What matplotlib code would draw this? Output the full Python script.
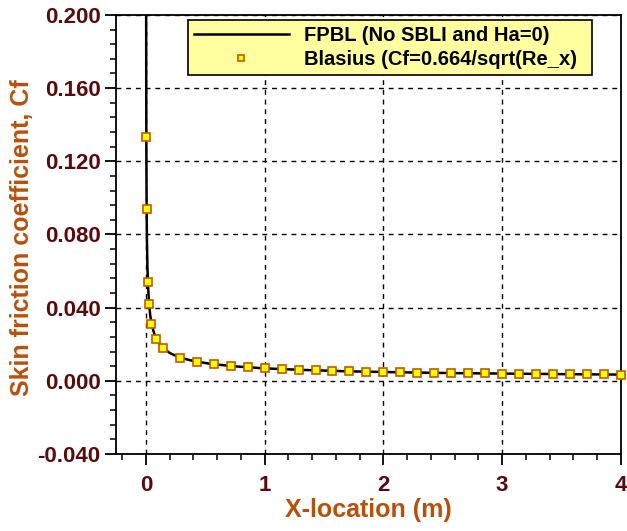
import matplotlib.pyplot as plt
from matplotlib.ticker import MultipleLocator

# FPBL solution (no SBLI, Ha=0)
x_fpbl = [0.0, 0.0016, 0.003, 0.005, 0.008, 0.012, 0.018, 0.025, 0.035, 0.05,
          0.07, 0.1, 0.14, 0.2, 0.28, 0.4, 0.55, 0.75, 1.0, 1.3, 1.7, 2.1,
          2.6, 3.1, 3.6, 4.0]
cf_fpbl = [0.30, 0.168, 0.124, 0.096, 0.076, 0.062, 0.051, 0.043, 0.036, 0.030,
           0.0257, 0.0215, 0.0182, 0.0152, 0.0128, 0.0108, 0.0092, 0.0079, 0.0068,
           0.0060, 0.0052, 0.0047, 0.0042, 0.0039, 0.0036, 0.0034]

# Blasius reference points
x_blasius = [0.003, 0.005, 0.013, 0.022, 0.04, 0.085, 0.143, 0.286, 0.429, 0.571,
             0.714, 0.857, 1.0, 1.143, 1.286, 1.429, 1.571, 1.714, 1.857, 2.0,
             2.143, 2.286, 2.429, 2.571, 2.714, 2.857, 3.0, 3.143, 3.286, 3.429,
             3.571, 3.714, 3.857, 4.0]
cf_blasius = [0.133, 0.094, 0.054, 0.042, 0.031, 0.023, 0.0180, 0.0127, 0.0104, 0.0090,
              0.0080, 0.0073, 0.0068, 0.0064, 0.0060, 0.0057, 0.0054, 0.0052, 0.0050, 0.0048,
              0.0046, 0.0045, 0.0044, 0.0042, 0.0041, 0.0040, 0.0039, 0.0038, 0.0038, 0.0037,
              0.0036, 0.0035, 0.0035, 0.0034]

x_ticks = [0, 1, 2, 3, 4]
y_ticks = [-0.04, 0.0, 0.04, 0.08, 0.12, 0.16, 0.2]

tick_color = "#5a0a0a"
label_color = "#b8500a"

plt.rcParams["font.family"] = ["Liberation Sans", "DejaVu Sans"]

fig = plt.figure(figsize=(6.27, 5.31), dpi=100)
ax = fig.add_axes([0.185, 0.145, 0.805, 0.827])

ax.plot(x_fpbl, cf_fpbl, color="black", lw=1.8, label="FPBL (No SBLI and Ha=0)", zorder=3)
ax.plot(x_blasius, cf_blasius, ls="none", marker="s", ms=5.3, mfc="#ffff00",
        mec="#c05a00", mew=1.2, label="Blasius (Cf=0.664/sqrt(Re_x)", zorder=4,
        clip_on=False)

ax.set_xlim(-0.253, 4.0)
ax.set_ylim(-0.04, 0.2)
ax.set_xticks(x_ticks)
ax.set_xticklabels([str(v) for v in x_ticks])
ax.set_yticks(y_ticks)
ax.set_yticklabels(["%.3f" % v for v in y_ticks])
ax.xaxis.set_minor_locator(MultipleLocator(0.2))
ax.yaxis.set_minor_locator(MultipleLocator(0.008))

ax.tick_params(which="major", direction="out", length=8, width=1.3,
               labelsize=16, labelcolor=tick_color, color="black")
ax.tick_params(which="minor", direction="out", length=4.5, width=1.1, color="black")
ax.tick_params(axis="x", which="major", pad=7)
ax.tick_params(axis="y", which="major", pad=3)
for lbl in ax.get_xticklabels() + ax.get_yticklabels():
    lbl.set_fontweight("bold")

for s in ax.spines.values():
    s.set_linewidth(1.3)

ax.grid(True, which="major", color="black", ls=(0, (3.5, 3.5)), lw=1.0)
ax.set_axisbelow(True)

ax.set_xlabel("X-location (m)", fontsize=18, fontweight="bold", color=label_color)
ax.set_ylabel("Skin friction coefficient, Cf", fontsize=18, fontweight="bold",
              color=label_color)
ax.xaxis.set_label_coords(0.501, -0.128)
ax.xaxis.label.set_va("center")
ax.yaxis.set_label_coords(-0.186, 0.493)
ax.yaxis.label.set_va("center")

leg = ax.legend(loc="upper left", bbox_to_anchor=(0.1426, 0.847, 0.8, 0.1416),
                mode="expand", borderaxespad=0, numpoints=1, handlelength=4.7,
                handletextpad=0.75, labelspacing=0.25, borderpad=0.3,
                fancybox=False, framealpha=1, edgecolor="black",
                facecolor="#ffffa0", prop={"size": 14.5, "weight": "bold"})
leg.get_frame().set_linewidth(1.2)
leg.legend_handles[1].set_markersize(4.5)

fig.savefig("out.png", dpi=100)
